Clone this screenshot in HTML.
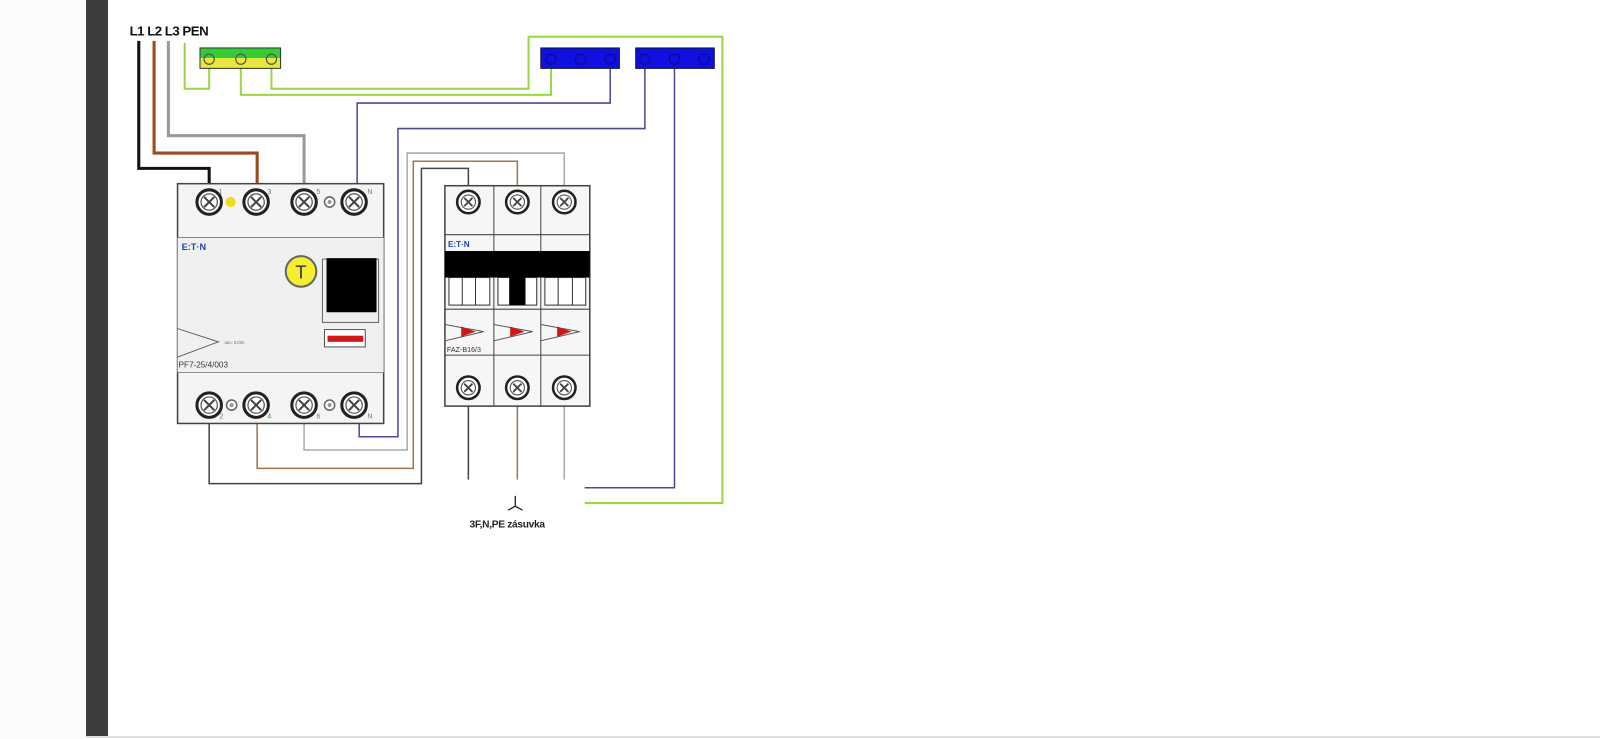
<!DOCTYPE html>
<html><head><meta charset="utf-8"><style>
html,body{margin:0;padding:0;width:1600px;height:739px;overflow:hidden;background:#fff;font-family:"Liberation Sans",sans-serif}
</style></head><body>
<svg width="1600" height="739" viewBox="0 0 1600 739" xmlns="http://www.w3.org/2000/svg">
<defs>
<g id="t">
<circle r="12" fill="#fff" stroke="#222" stroke-width="3"/>
<circle r="8" fill="none" stroke="#555" stroke-width="1.2"/>
<path d="M-5,-5 L5,5 M5,-5 L-5,5" stroke="#444" stroke-width="2"/>
</g>
<g id="ts">
<circle r="11" fill="#fff" stroke="#222" stroke-width="2.5"/>
<circle r="7" fill="none" stroke="#555" stroke-width="1.1"/>
<path d="M-4,-4 L4,4 M4,-4 L-4,4" stroke="#444" stroke-width="1.8"/>
</g>
<g id="sc"><circle r="5" fill="#fff" stroke="#666" stroke-width="1.5"/><circle r="2" fill="#999"/></g>
</defs>
<rect x="0" y="0" width="86" height="739" fill="#fafbfd"/>
<rect x="86" y="0" width="22" height="737" fill="#3d3d3d"/>
<line x1="86" y1="737" x2="1600" y2="737" stroke="#ddd" stroke-width="2"/>

<g transform="scale(1.0204)">
<text x="127" y="35" font-size="13" font-weight="bold" fill="#111" letter-spacing="-0.5">L1 L2 L3 PEN</text>

<polyline points="136,40 136,165 205,165 205,196" fill="none" stroke="#111" stroke-width="3"/>
<polyline points="151,40 151,150 252,150 252,190" fill="none" stroke="#9a4a1c" stroke-width="3"/>
<polyline points="165,40 165,133 298,133 298,192" fill="none" stroke="#999" stroke-width="3"/>
<polyline points="181,42 181,87 205,87 205,58" fill="none" stroke="#9ad54a" stroke-width="2"/>
<polyline points="236,58 236,93 540,93 540,58" fill="none" stroke="#9ad54a" stroke-width="2"/>
<polyline points="266,58 266,87 518,87 518,36 708,36 708,493 573,493" fill="none" stroke="#9ad54a" stroke-width="2"/>
<polyline points="598,58 598,101 350,101 350,192" fill="none" stroke="#4a4a9a" stroke-width="1.5"/>
<polyline points="632,58 632,126 390,126 390,428 352,428 352,405" fill="none" stroke="#4a4a9a" stroke-width="1.5"/>
<polyline points="661,58 661,478 573,478" fill="none" stroke="#4a4a9a" stroke-width="1.5"/>
<polyline points="553,190 553,150 399,150 399,441 298,441 298,400" fill="none" stroke="#aaa" stroke-width="1.5"/>
<polyline points="507,190 507,158 405,158 405,459 252,459 252,400" fill="none" stroke="#a0764a" stroke-width="1.5"/>
<polyline points="459,190 459,165 413,165 413,474 205,474 205,400" fill="none" stroke="#444" stroke-width="1.5"/>
<line x1="459" y1="395" x2="459" y2="470" stroke="#444" stroke-width="1.5"/>
<line x1="507" y1="395" x2="507" y2="470" stroke="#a0764a" stroke-width="1.5"/>
<line x1="553" y1="395" x2="553" y2="470" stroke="#aaa" stroke-width="1.5"/>

<rect x="196" y="47" width="79" height="10" fill="#33cc33"/>
<rect x="196" y="57" width="79" height="10" fill="#e8e83a"/>
<rect x="196" y="47" width="79" height="20" fill="none" stroke="#333" stroke-width="1"/>
<g fill="none" stroke="#555" stroke-width="1.2"><circle cx="205" cy="58" r="5"/><circle cx="236" cy="58" r="5"/><circle cx="266" cy="58" r="5"/></g>
<rect x="530" y="47" width="77" height="20" fill="#1010e0" stroke="#113" stroke-width="1"/>
<rect x="623" y="47" width="77" height="20" fill="#1010e0" stroke="#113" stroke-width="1"/>
<g fill="none" stroke="#0a0a90" stroke-width="1.2"><circle cx="540" cy="58" r="5"/><circle cx="569" cy="58" r="5"/><circle cx="598" cy="58" r="5"/><circle cx="632" cy="58" r="5"/><circle cx="661" cy="58" r="5"/><circle cx="690" cy="58" r="5"/></g>

<rect x="174" y="180" width="202" height="235" fill="#f4f4f4" stroke="#444" stroke-width="1.5"/>
<line x1="174" y1="233" x2="376" y2="233" stroke="#444" stroke-width="1.2"/>
<line x1="174" y1="365" x2="376" y2="365" stroke="#444" stroke-width="1.2"/>
<rect x="174" y="233" width="202" height="132" fill="#f0f0f0"/>
<use href="#t" x="205" y="198"/><use href="#t" x="251" y="198"/><use href="#t" x="298" y="198"/><use href="#t" x="347" y="198"/>
<circle cx="226" cy="198" r="5" fill="#f2dc1a"/><use href="#sc" x="323" y="198"/>
<use href="#t" x="205" y="397"/><use href="#t" x="251" y="397"/><use href="#t" x="298" y="397"/><use href="#t" x="347" y="397"/>
<use href="#sc" x="227" y="397"/><use href="#sc" x="323" y="397"/>
<g font-size="7" fill="#777"><text x="214" y="190">1</text><text x="262" y="190">3</text><text x="310" y="190">5</text><text x="360" y="190">N</text><text x="215" y="410">2</text><text x="262" y="410">4</text><text x="310" y="410">6</text><text x="360" y="410">N</text></g>
<text x="178" y="245" font-size="9" font-weight="bold" fill="#2244aa">E:T·N</text>
<circle cx="295" cy="266" r="15" fill="#f5ee30" stroke="#666" stroke-width="2"/>
<text x="295" y="273" font-size="18" text-anchor="middle" fill="#333">T</text>
<rect x="316" y="254" width="55" height="62" fill="#eee" stroke="#666" stroke-width="1"/>
<rect x="320" y="253" width="49" height="53" fill="#000"/>
<rect x="318" y="323" width="40" height="17" fill="#fff" stroke="#555" stroke-width="1"/>
<rect x="321" y="329" width="35" height="6" fill="#d01818"/>
<polyline points="174,322 214,335 174,350" fill="none" stroke="#666" stroke-width="1"/>
<text x="175" y="360" font-size="8" fill="#333">PF7-25/4/003</text>
<text x="220" y="337" font-size="4" fill="#666">I∆n= 0,03A</text>

<rect x="436" y="182" width="142" height="216" fill="#f6f6f6" stroke="#444" stroke-width="1.5"/>
<line x1="484" y1="182" x2="484" y2="398" stroke="#444" stroke-width="1"/>
<line x1="530" y1="182" x2="530" y2="398" stroke="#444" stroke-width="1"/>
<line x1="436" y1="230" x2="578" y2="230" stroke="#444" stroke-width="1"/>
<line x1="436" y1="303" x2="578" y2="303" stroke="#444" stroke-width="1"/>
<line x1="436" y1="348" x2="578" y2="348" stroke="#444" stroke-width="1"/>
<text x="439" y="242" font-size="8" font-weight="bold" fill="#2244aa">E:T·N</text>
<rect x="436" y="246" width="142" height="26" fill="#000"/>
<g fill="#fff" stroke="#333" stroke-width="1"><rect x="440" y="272" width="40" height="27"/><rect x="488" y="272" width="38" height="27"/><rect x="534" y="272" width="40" height="27"/></g>
<g fill="none" stroke="#333" stroke-width="1"><line x1="453" y1="272" x2="453" y2="299"/><line x1="466" y1="272" x2="466" y2="299"/><line x1="547" y1="272" x2="547" y2="299"/><line x1="561" y1="272" x2="561" y2="299"/></g>
<rect x="499" y="270" width="16" height="29" fill="#000"/>
<g fill="none" stroke="#555" stroke-width="1"><polyline points="436,318 474,325 436,334"/><polyline points="484,318 522,325 484,334"/><polyline points="530,318 568,325 530,334"/></g>
<g fill="#cc1818"><polygon points="452,320 466,325 452,330"/><polygon points="500,320 514,325 500,330"/><polygon points="546,320 560,325 546,330"/></g>
<text x="438" y="345" font-size="7" fill="#333">FAZ-B16/3</text>
<use href="#ts" x="459" y="198"/><use href="#ts" x="507" y="198"/><use href="#ts" x="553" y="198"/>
<use href="#ts" x="459" y="380"/><use href="#ts" x="507" y="380"/><use href="#ts" x="553" y="380"/>

<path d="M505,486 L505,496 M498,500 L505,496 L512,500" fill="none" stroke="#222" stroke-width="1.3"/>
<text x="497" y="517" font-size="10" font-weight="bold" text-anchor="middle" fill="#222" letter-spacing="-0.3">3F,N,PE zásuvka</text>
</g>
</svg>
</body></html>
